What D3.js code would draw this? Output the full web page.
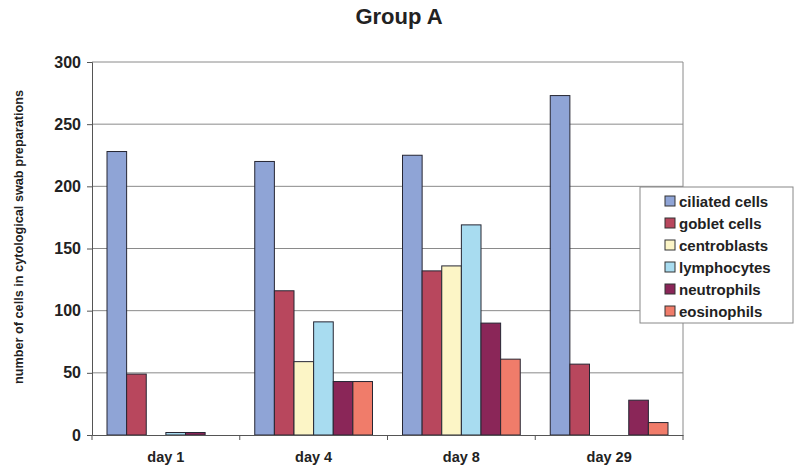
<!DOCTYPE html>
<html><head><meta charset="utf-8">
<script src="https://cdn.jsdelivr.net/npm/d3@7"></script>
<style>body{margin:0;background:#fff}svg{display:block;font-family:Arial,"Liberation Sans",sans-serif}</style>
</head><body><svg id="c" width="800" height="473"></svg>
<script>
const days = ["day 1", "day 4", "day 8", "day 29"];
const seriesNames = ["ciliated cells", "goblet cells", "centroblasts", "lymphocytes", "neutrophils", "eosinophils"];
const seriesColors = ["#8fa4d6", "#b8475d", "#fcf5c6", "#a8dcf0", "#8a2658", "#f07c6a"];
const ciliated = [228, 220, 225, 273];
const goblet = [49, 116, 132, 57];
const centroblasts = [0, 59, 136, 0];
const lymphocytes = [2, 91, 169, 0];
const neutrophils = [2, 43, 90, 28];
const eosinophils = [0, 43, 61, 10];
const yTicks = [0, 50, 100, 150, 200, 250, 300];
const values = [ciliated, goblet, centroblasts, lymphocytes, neutrophils, eosinophils];

const svg = d3.select("#c");
const m = {l: 92, r: 683, t: 62, b: 435};
const x0 = d3.scaleBand().domain(days).range([m.l, m.r]).paddingInner(0).paddingOuter(0);
const x1 = d3.scaleBand().domain(seriesNames).range([15, x0.bandwidth() - 15]);
const y = d3.scaleLinear().domain([0, 300]).range([m.b, m.t]);
const FONT = "Arial, Liberation Sans, sans-serif";

// gridlines
svg.append("g").selectAll("line").data(yTicks.filter(d => d > 0)).join("line")
  .attr("x1", m.l).attr("x2", m.r).attr("y1", d => y(d)).attr("y2", d => y(d))
  .attr("stroke", "#8a8a8a").attr("stroke-width", 1);
// right border
svg.append("line").attr("x1", m.r).attr("x2", m.r).attr("y1", m.t).attr("y2", m.b).attr("stroke", "#8a8a8a");

// bars
const g = svg.append("g");
days.forEach((d, i) => {
  seriesNames.forEach((s, j) => {
    const v = values[j][i];
    if (v <= 0) return;
    g.append("rect")
      .attr("x", x0(d) + x1(s)).attr("width", x1.bandwidth())
      .attr("y", y(v)).attr("height", y(0) - y(v))
      .attr("fill", seriesColors[j]).attr("stroke", "#262633").attr("stroke-width", 1);
  });
});

// y axis
const yAxis = svg.append("g").attr("transform", `translate(${m.l},0)`)
  .call(d3.axisLeft(y).tickValues(yTicks).tickSize(5).tickPadding(6));
yAxis.select(".domain").attr("stroke", "#555");
yAxis.selectAll(".tick line").attr("stroke", "#555");
yAxis.selectAll("text").attr("font-size", 16).attr("font-weight", "bold").attr("fill", "#222").attr("font-family", FONT);

// x axis
const xAxis = svg.append("g").attr("transform", `translate(0,${m.b})`)
  .call(d3.axisBottom(x0).tickSize(0).tickPadding(17));
xAxis.select(".domain").attr("stroke", "#555");
xAxis.selectAll("text").attr("font-size", 14.5).attr("font-weight", "bold").attr("fill", "#222").attr("font-family", FONT);
svg.append("g").selectAll("line").data(days.concat(["end"])).join("line")
  .attr("x1", (d, i) => m.l + i * x0.step()).attr("x2", (d, i) => m.l + i * x0.step())
  .attr("y1", m.b).attr("y2", m.b + 5).attr("stroke", "#555");

// title
svg.append("text").attr("x", 399).attr("y", 24).attr("text-anchor", "middle")
  .attr("font-size", 22).attr("font-weight", "bold").attr("fill", "#222").text("Group A");

// y label
svg.append("text").attr("transform", "translate(23,237) rotate(-90)").attr("text-anchor", "middle")
  .attr("font-size", 12.7).attr("font-weight", "bold").attr("fill", "#222")
  .text("number of cells in cytological swab preparations");

// legend
const lg = svg.append("g").attr("transform", "translate(640,187)");
lg.append("rect").attr("width", 153).attr("height", 136).attr("fill", "#fff").attr("stroke", "#888");
seriesNames.forEach((s, j) => {
  const yy = 14 + j * 22;
  lg.append("rect").attr("x", 25).attr("y", yy - 5).attr("width", 10).attr("height", 10)
    .attr("fill", seriesColors[j]).attr("stroke", "#333");
  lg.append("text").attr("x", 39).attr("y", yy + 5.5).attr("font-size", 15).attr("font-weight", "bold")
    .attr("fill", "#222").text(s);
});
</script></body></html>
